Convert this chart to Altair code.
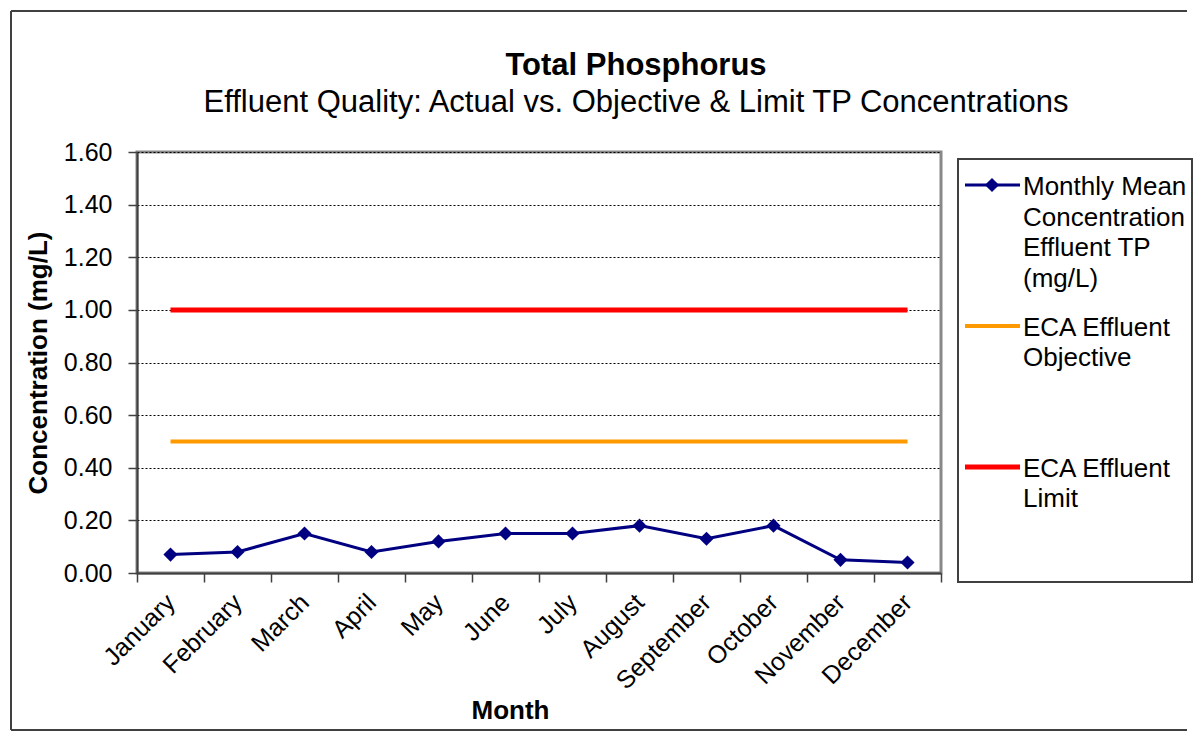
import altair as alt
import pandas as pd

months = ["January", "February", "March", "April", "May", "June", "July",
          "August", "September", "October", "November", "December"]
tp_monthly = [0.07, 0.08, 0.15, 0.08, 0.12, 0.15, 0.15, 0.18, 0.13, 0.18, 0.05, 0.04]
objective = [0.50, 0.50, 0.50, 0.50, 0.50, 0.50, 0.50, 0.50, 0.50, 0.50, 0.50, 0.50]
limit = [1.00, 1.00, 1.00, 1.00, 1.00, 1.00, 1.00, 1.00, 1.00, 1.00, 1.00, 1.00]
series = ["Monthly Mean Concentration Effluent TP (mg/L)",
          "ECA Effluent Objective",
          "ECA Effluent Limit"]
legend_labels = ["Monthly Mean|Concentration|Effluent TP|(mg/L)",
                 "ECA Effluent|Objective",
                 "ECA Effluent|Limit"]
colors = ["#000080", "#FF9900", "#FF0000"]
y_ticks = [0.0, 0.2, 0.4, 0.6, 0.8, 1.0, 1.2, 1.4, 1.6]
title_text = "Total Phosphorus"
subtitle_text = "Effluent Quality: Actual vs. Objective & Limit TP Concentrations"

FONT = "Liberation Sans"
DIAMOND = "M0,-1L1,0L0,1L-1,0Z"

rows = []
for s, vals in zip(series, [tp_monthly, objective, limit]):
    for m, v in zip(months, vals):
        rows.append({"Month": m, "Series": s, "Value": v})
df = pd.DataFrame(rows)

x_enc = alt.X(
    "Month:N", sort=months,
    scale=alt.Scale(type="band", paddingInner=0, paddingOuter=0),
    axis=alt.Axis(
        title="Month", tickBand="extent", labelAngle=-45, labelAlign="right",
        labelBaseline="middle", labelFontSize=25, labelPadding=16, tickSize=9,
        tickColor="#404040", tickWidth=1.5, domainColor="#404040", domainWidth=2,
        titleFontSize=26, titleFontWeight="bold", titleX=373, titleY=145,
        titleBaseline="alphabetic", labelColor="black", titleColor="black",
        grid=False, labelFont=FONT, titleFont=FONT,
    ),
)
y_enc = alt.Y(
    "Value:Q",
    scale=alt.Scale(domain=[0, 1.6], nice=False),
    axis=alt.Axis(
        values=y_ticks, format=".2f", title="Concentration (mg/L)", grid=True,
        gridColor="black", gridDash=[2, 2], gridWidth=1, tickSize=9,
        labelPadding=16, labelFontSize=25, tickColor="#404040", tickWidth=1.5,
        domainColor="#404040", domainWidth=2, titleFontSize=26,
        titleFontWeight="bold", titleColor="black", labelColor="black",
        titleX=-91, titleBaseline="alphabetic", labelFont=FONT, titleFont=FONT,
    ),
)
color_enc = alt.Color("Series:N", scale=alt.Scale(domain=series, range=colors), legend=None)
width_enc = alt.StrokeWidth("Series:N", scale=alt.Scale(domain=series, range=[3, 5, 5]), legend=None)

one = alt.Data(values=[{"k": 1}])
frame_style = dict(color="#404040", strokeWidth=2)
frame_top = alt.Chart(one).mark_rule(**frame_style).encode(
    x=alt.value(-126), x2=alt.value(1050), y=alt.value(-141))
frame_bottom = alt.Chart(one).mark_rule(**frame_style).encode(
    x=alt.value(-126), x2=alt.value(1050), y=alt.value(578))
frame_left = alt.Chart(one).mark_rule(**frame_style).encode(
    x=alt.value(-126), y=alt.value(-141), y2=alt.value(578))
title_mark = alt.Chart(one).mark_text(
    font=FONT, fontSize=31, fontWeight="bold", color="black", align="center",
    baseline="alphabetic"
).encode(x=alt.value(499), y=alt.value(-77), text=alt.value(title_text))
subtitle_mark = alt.Chart(one).mark_text(
    font=FONT, fontSize=31, color="black", align="center", baseline="alphabetic"
).encode(x=alt.value(499), y=alt.value(-40), text=alt.value(subtitle_text))

base = alt.Chart(df)
lines = base.mark_line().encode(x=x_enc, y=y_enc, color=color_enc, strokeWidth=width_enc)
points = base.transform_filter(alt.datum.Series == series[0]).mark_point(
    filled=True, shape=DIAMOND, size=200, opacity=1
).encode(x=x_enc, y=y_enc, color=color_enc)

main = alt.layer(frame_top, frame_bottom, frame_left, title_mark, subtitle_mark,
                 lines, points).properties(
    width=804, height=421,
    view=alt.ViewBackground(stroke="#888888", strokeWidth=3),
)

leg_df = pd.DataFrame({"Series": series, "Label": legend_labels})
ly = alt.Y("Series:N", sort=series,
           scale=alt.Scale(type="point", domain=series, padding=0.525, align=0.223),
           axis=None)
box = alt.Chart(one).mark_rect(
    fillOpacity=0, stroke="#404040", strokeWidth=2
).encode(x=alt.value(0), x2=alt.value(234), y=alt.value(7), y2=alt.value(430))
rules = alt.Chart(leg_df).mark_rule().encode(
    x=alt.value(7), x2=alt.value(62), y=ly, color=color_enc, strokeWidth=width_enc
)
diamond = alt.Chart(leg_df).transform_filter(alt.datum.Series == series[0]).mark_point(
    filled=True, shape=DIAMOND, size=200, opacity=1
).encode(x=alt.value(34), y=ly, color=color_enc)
texts = alt.Chart(leg_df).mark_text(
    align="left", baseline="alphabetic", dy=10, lineBreak="|", lineHeight=30.5,
    fontSize=26, font=FONT, color="black"
).encode(x=alt.value(65), y=ly, text="Label:N")

legend = alt.layer(box, rules, diamond, texts).properties(
    width=234, height=430, view=alt.ViewBackground(stroke=None)
)

chart = alt.hconcat(main, legend, spacing=17, bounds="flush").properties(
    padding=0, background="white"
).configure_view(stroke=None)

chart.save("out.html", embed_options={"renderer": "svg", "actions": False})
